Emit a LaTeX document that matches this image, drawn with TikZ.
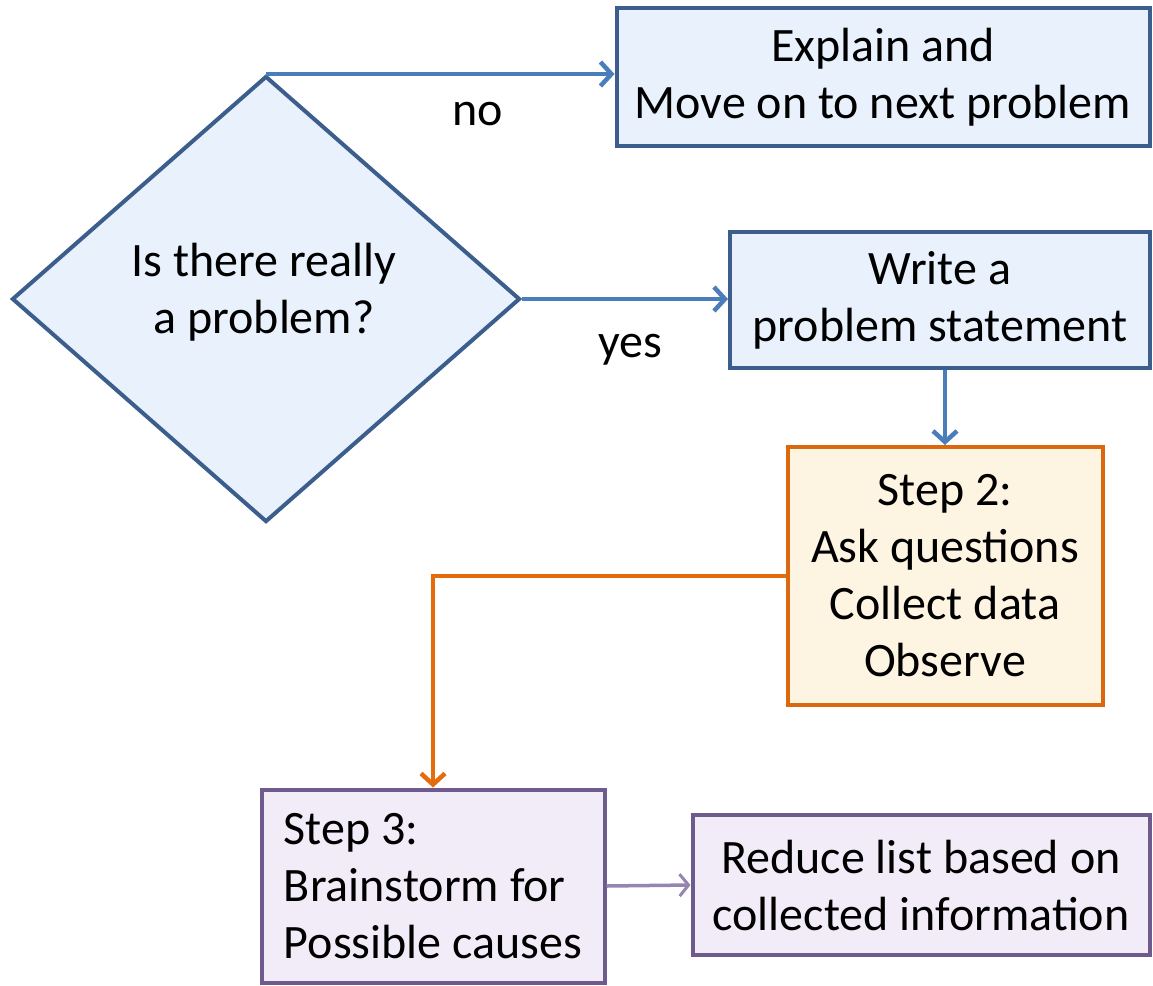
\documentclass[tikz,border=0pt]{standalone}
\usepackage{fontspec}
\setmainfont{Carlito}
\usetikzlibrary{shapes.geometric,arrows.meta}

\definecolor{bluefill}{HTML}{E8F1FC}
\definecolor{blueedge}{HTML}{3B5E8C}
\definecolor{blueline}{HTML}{4A7EBB}
\definecolor{orangefill}{HTML}{FEF4E2}
\definecolor{orangeedge}{HTML}{D9680F}
\definecolor{orangeline}{HTML}{E46C0A}
\definecolor{purplefill}{HTML}{F1ECF8}
\definecolor{purpleedge}{HTML}{6E5A8C}
\definecolor{purpleline}{HTML}{9585B0}

\begin{document}
\begin{tikzpicture}[x=1pt, y=-1pt,
	every node/.style = {font=\fontsize{48}{57}\selectfont},
	box/.style = {rectangle, align=center, inner sep=0pt,
		line width=4pt},
	bluebox/.style = {box, fill=bluefill, draw=blueedge},
	decision/.style = {diamond, inner sep=0pt,
		minimum width=508pt, minimum height=446pt,
		line width=4pt, fill=bluefill, draw=blueedge},
	link/.style = {line width=4.5pt, -{Straight Barb[length=11pt,width=24pt,line width=4.5pt]}}]

	\useasboundingbox (0,0) rectangle (1153,985);

	\node[decision] (Q) at (266,299) {};
	\node[align=center] (Qtext) at (264,292) {Is there really\\a problem?};
	\node[bluebox, minimum width=533pt, minimum height=138pt] (explain) at (883,77) {Explain and\\Move on to next problem};
	\node[bluebox, minimum width=420pt, minimum height=136pt] (write) at (940,300) {Write a\\problem statement};
	\node[box, fill=orangefill, draw=orangeedge, minimum width=315pt, minimum height=258pt] (step2) at (945,576) {Step 2:\\Ask questions\\Collect data\\Observe};
	\node[box, align=left, fill=purplefill, draw=purpleedge, minimum width=343pt, minimum height=193pt] (step3) at (433,886) {Step 3:\\Brainstorm for\\Possible causes};
	\node[box, fill=purplefill, draw=purpleedge, minimum width=457pt, minimum height=140pt] (reduce) at (921,885) {Reduce list based on\\collected information};

	\node (no) at (478,114) {no};
	\node (yes) at (630,350) {yes};

	\draw[link, blueline] (Q.north) -- (Q.north -| explain.west);
	\draw[link, blueline] (Q.east) -- (Q.east -| write.west);
	\draw[link, blueline] (step2.north |- write.south) -- (step2.north);
	\draw[link, orangeline] (step2.west) -| (step3.north);
	\draw[purpleline, line width=3.5pt, -{Straight Barb[length=9pt,width=22pt,line width=3pt]}] (step3.east) -- (reduce.west);

\end{tikzpicture}
\end{document}
